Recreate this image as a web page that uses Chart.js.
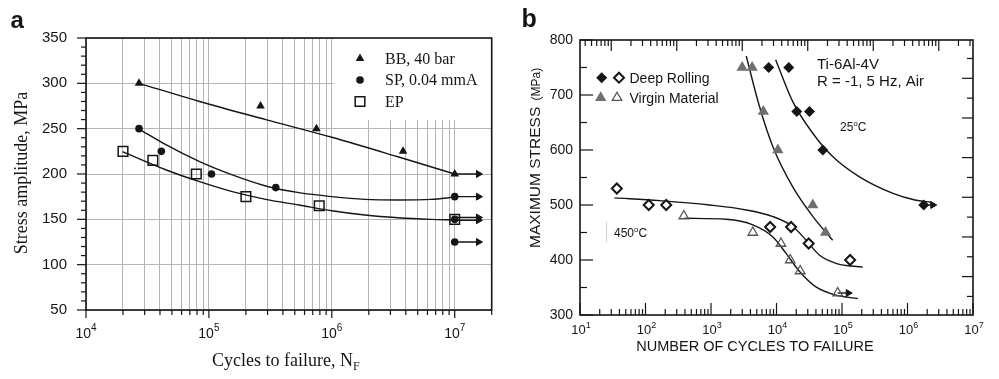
<!DOCTYPE html>
<html>
<head>
<meta charset="utf-8">
<script src="https://cdn.jsdelivr.net/npm/chart.js@4.4.0/dist/chart.umd.min.js"></script>
<style>
  html, body { margin: 0; padding: 0; background: #fff; }
  #wrap { position: relative; width: 999px; height: 379px; }
  canvas { position: absolute; top: 0; display: block; }
</style>
</head>
<body>
<div id="wrap">
  <canvas id="chartA" width="500" height="379" style="left:0"></canvas>
  <canvas id="chartB" width="499" height="379" style="left:500px"></canvas>
</div>
<script>
// ---------- panel a: stress amplitude vs cycles ----------
const bbCycles = [2.7e4, 2.63e5, 7.5e5, 3.8e6, 1e7];
const bbStress = [300, 275, 250, 225, 200];
const spCycles = [2.7e4, 4.1e4, 1.05e5, 3.5e5, 1e7, 1e7, 1e7];
const spStress = [250, 225, 200, 185, 175, 150, 125];
const epCycles = [2e4, 3.5e4, 7.9e4, 2e5, 7.9e5, 1e7];
const epStress = [225, 215, 200, 175, 165, 150];
// run-outs (arrows)
const runoutStressA = [200, 175, 152, 149, 125];
const runoutFromA = 1e7;
const runoutToA = 1.56e7;
// fitted curves
const bbFitCycles = [2.7e4, 8.4e4, 2.9e5, 1e6, 3.45e6, 1e7];
const bbFitStress = [300, 280, 260, 240.5, 219, 200];
const spFitCycles = [2.7e4, 4.5e4, 8.4e4, 1.55e5, 2.9e5, 5.4e5, 1e6, 1.86e6, 3.45e6, 6.4e6, 1e7];
const spFitStress = [249.6, 232, 213.6, 199, 186.8, 179.4, 175, 172, 171.3, 172, 174.5];
const epFitCycles = [1.98e4, 4.5e4, 8.4e4, 1.55e5, 2.9e5, 5.4e5, 1e6, 1.86e6, 3.45e6, 6.4e6, 1e7];
const epFitStress = [224.6, 204.4, 191.5, 180.5, 172, 165.8, 159.5, 154.8, 151.8, 150, 149.3];
const legendA = ['BB, 40 bar', 'SP, 0.04 mmA', 'EP'];
const decadesA = [4, 5, 6, 7];

// ---------- panel b: maximum stress vs cycles ----------
const dr25Cycles = [7.6e3, 1.54e4, 2.04e4, 3.19e4, 5.1e4, 1.77e6];
const dr25Stress = [750, 750, 670, 670, 600, 500];
const vm25Cycles = [2.99e3, 4.25e3, 6.3e3, 1.05e4, 3.58e4, 5.6e4];
const vm25Stress = [750, 750, 670, 600, 500, 450];
const dr450Cycles = [36.5, 112, 207, 8e3, 1.67e4, 3.1e4, 1.33e5];
const dr450Stress = [530, 500, 500, 460, 460, 430, 400];
const vm450Cycles = [385, 4.35e3, 1.17e4, 1.62e4, 2.3e4, 8.6e4];
const vm450Stress = [480, 450, 430, 400, 380, 340];
const dr25Runout = [1.77e6, 2.43e6];
const vm450Runout = [8.6e4, 1.245e5];
const dr25FitCycles = [9.7e3, 1.77e4, 3.6e4, 7.2e4, 1.85e5, 6e5, 1.3e6, 2.3e6];
const dr25FitStress = [764, 688, 630, 588, 551, 521, 509, 505];
const vm25FitCycles = [3.45e3, 5.5e3, 8.8e3, 1.77e4, 3.6e4, 7.2e4];
const vm25FitStress = [771, 679, 606, 533, 479, 436];
const dr450FitCycles = [33.6, 164, 950, 3.45e3, 8.8e3, 1.77e4, 2.84e4, 4.5e4, 8.1e4, 2.08e5];
const dr450FitStress = [513, 508, 500, 491, 479, 461, 436, 409, 394, 387];
const vm450FitCycles = [394, 1.7e3, 4.35e3, 8.8e3, 1.4e4, 2.25e4, 4e4, 8.1e4, 1.74e5];
const vm450FitStress = [476, 474, 464, 442, 412, 379, 351, 336, 330];
const legendB = ['Deep Rolling', 'Virgin Material'];
const decadesB = [1, 2, 3, 4, 5, 6, 7];

const sans = '"Liberation Sans", Arial, Helvetica, sans-serif';
const serif = '"Liberation Serif", "Times New Roman", serif';
const ink = '#151515';
const grey = '#6f6f6f';
const { drawPoint } = Chart.helpers;

function pts(xs, ys) { return xs.map((x, i) => ({ x: x, y: ys[i] })); }
function isDecade(v) { const l = Math.log10(v); return Math.abs(l - Math.round(l)) < 1e-6; }
function logTicks(lo, hi) {
  const out = [];
  for (let e = Math.floor(Math.log10(lo)) - 1; e <= Math.ceil(Math.log10(hi)); e++) {
    for (let n = 1; n <= 9; n++) {
      const v = n * Math.pow(10, e);
      if (v >= lo * 0.9999 && v <= hi * 1.0001) out.push(v);
    }
  }
  return out;
}
function line(ctx, x1, y1, x2, y2) { ctx.beginPath(); ctx.moveTo(x1, y1); ctx.lineTo(x2, y2); ctx.stroke(); }
function drawPow(ctx, cx, base, exp, big, small, rise) {
  ctx.font = big + 'px ' + sans;
  const w1 = ctx.measureText('10').width;
  ctx.font = small + 'px ' + sans;
  const w2 = ctx.measureText(exp).width;
  const x0 = cx - (w1 + w2) / 2;
  ctx.textAlign = 'left';
  ctx.textBaseline = 'alphabetic';
  ctx.font = big + 'px ' + sans;
  ctx.fillText('10', x0, base);
  ctx.font = small + 'px ' + sans;
  ctx.fillText(exp, x0 + w1, base - rise);
}
function curve(data, color) {
  return { type: 'line', data: data, borderColor: color, borderWidth: 1.4, pointRadius: 0,
    cubicInterpolationMode: 'monotone', fill: false, xAxisID: 'x', yAxisID: 'y' };
}
function marks(data, style, radius, fill, stroke, bw) {
  return { type: 'line', showLine: false, data: data, pointStyle: style, pointRadius: radius,
    pointBackgroundColor: fill, pointBorderColor: stroke, pointBorderWidth: bw, xAxisID: 'x', yAxisID: 'y' };
}
function arrow(x1, x2, y, r) {
  return { type: 'line', data: [{ x: x1, y: y }, { x: x2, y: y }], borderColor: ink, borderWidth: 1.4,
    pointRadius: [0, r], pointStyle: 'triangle', pointRotation: 90, pointBackgroundColor: ink,
    pointBorderColor: ink, pointBorderWidth: 1, xAxisID: 'x', yAxisID: 'y' };
}

// ================= panel a =================
const xTicksA = logTicks(1e4, 2e7);

const panelA = {
  id: 'panelA',
  beforeDatasetsDraw(chart) {
    const { ctx, chartArea: ca } = chart;
    ctx.save();
    ctx.fillStyle = '#fff';
    ctx.fillRect(334, ca.top, ca.right - 334, 120 - ca.top);
    ctx.restore();
  },
  afterDraw(chart) {
    const { ctx, chartArea: ca, scales: { x, y } } = chart;
    ctx.save();
    ctx.strokeStyle = ink;
    ctx.lineWidth = 1.6;
    ctx.strokeRect(ca.left, ca.top, ca.right - ca.left, ca.bottom - ca.top);
    ctx.lineWidth = 1.2;
    for (let v = 50; v <= 350; v += 10) {
      const py = y.getPixelForValue(v);
      line(ctx, ca.left - (v % 50 === 0 ? 9 : 5), py, ca.left, py);
    }
    for (const v of xTicksA) {
      const px = x.getPixelForValue(v);
      line(ctx, px, ca.bottom, px, ca.bottom + (isDecade(v) ? 8 : 5));
    }
    ctx.fillStyle = ink;
    for (const e of decadesA) drawPow(ctx, x.getPixelForValue(Math.pow(10, e)), 338, String(e), 14, 10, 7);

    // axis titles
    ctx.font = '18px ' + serif;
    ctx.textAlign = 'left';
    ctx.fillText('Cycles to failure, N', 212, 366);
    const wN = ctx.measureText('Cycles to failure, N').width;
    ctx.font = '12px ' + serif;
    ctx.fillText('F', 212 + wN, 370);
    ctx.save();
    ctx.translate(27, 173);
    ctx.rotate(-Math.PI / 2);
    ctx.font = '18px ' + serif;
    ctx.textAlign = 'center';
    ctx.fillText('Stress amplitude, MPa', 0, 0);
    ctx.restore();

    // panel letter
    ctx.font = 'bold 24px ' + sans;
    ctx.textAlign = 'left';
    ctx.fillText('a', 10.5, 28);

    // legend
    const rows = [58.5, 80, 101.5];
    const styles = [
      { pointStyle: 'triangle', radius: 5, fill: ink, bw: 0 },
      { pointStyle: 'circle', radius: 3.8, fill: ink, bw: 0 },
      { pointStyle: 'rect', radius: 6.8, fill: '#fff', bw: 1.5 }
    ];
    styles.forEach((s, i) => {
      ctx.fillStyle = s.fill;
      ctx.strokeStyle = ink;
      ctx.lineWidth = s.bw;
      drawPoint(ctx, { pointStyle: s.pointStyle, radius: s.radius, rotation: 0, borderWidth: s.bw }, 360, rows[i]);
      ctx.fillStyle = ink;
      ctx.font = '16px ' + serif;
      ctx.fillText(legendA[i], 385, rows[i] + 5);
    });
    ctx.restore();
  }
};

new Chart(document.getElementById('chartA'), {
  data: {
    datasets: [
      marks(pts(epCycles, epStress), 'rect', 6.8, 'rgba(255,255,255,0)', ink, 1.5),
      marks(pts(bbCycles, bbStress), 'triangle', 5, ink, ink, 0),
      marks(pts(spCycles, spStress), 'circle', 3.8, ink, ink, 0),
      ...runoutStressA.map(s => arrow(runoutFromA, runoutToA, s, 4)),
      curve(pts(bbFitCycles, bbFitStress), ink),
      curve(pts(spFitCycles, spFitStress), ink),
      curve(pts(epFitCycles, epFitStress), ink)
    ]
  },
  options: {
    responsive: false,
    animation: false,
    layout: { padding: { left: 0, right: 7, top: 38, bottom: 0 } },
    plugins: { legend: { display: false }, tooltip: { enabled: false } },
    scales: {
      x: {
        type: 'logarithmic', min: 1e4, max: 2e7,
        afterBuildTicks: s => { s.ticks = xTicksA.map(v => ({ value: v })); },
        afterFit: s => { s.height = 69; },
        ticks: { display: false },
        grid: { color: '#b4b4b4', lineWidth: 1, drawTicks: false },
        border: { display: false }
      },
      y: {
        type: 'linear', min: 50, max: 350,
        afterFit: s => { s.width = 86; },
        ticks: { stepSize: 50, color: ink, padding: 19, font: { family: sans, size: 15 } },
        grid: { color: '#b4b4b4', lineWidth: 1, drawTicks: false },
        border: { display: false }
      }
    }
  },
  plugins: [panelA]
});

// ================= panel b =================
const minuteTicks = logTicks(10 / 300, 1e7 / 300);
const cycleTicks = logTicks(10, 1e7);

const panelB = {
  id: 'panelB',
  afterDraw(chart) {
    const { ctx, chartArea: ca, scales: { x, x2, y, y2 } } = chart;
    ctx.save();
    ctx.strokeStyle = ink;
    ctx.lineWidth = 1.2;
    for (let v = 300; v <= 800; v += 50) {
      const py = y.getPixelForValue(v);
      line(ctx, ca.left, py, ca.left + (v % 100 === 0 ? 13 : 7), py);
    }
    for (let v = 45; v <= 105; v += 5) {
      const py = y2.getPixelForValue(v);
      line(ctx, ca.right, py, ca.right - (v % 10 === 0 ? 11 : 6), py);
    }
    for (const v of cycleTicks) {
      const px = x.getPixelForValue(v);
      line(ctx, px, ca.bottom, px, ca.bottom - (isDecade(v) ? 12 : 6));
    }
    for (const v of minuteTicks) {
      const px = x2.getPixelForValue(v);
      line(ctx, px, ca.top, px, ca.top + (isDecade(v) ? 11 : 6));
    }
    ctx.lineWidth = 1.6;
    ctx.strokeRect(ca.left, ca.top, ca.right - ca.left, ca.bottom - ca.top);

    ctx.fillStyle = ink;
    for (const e of decadesB) drawPow(ctx, x.getPixelForValue(Math.pow(10, e)) + 1, 333.5, String(e), 13, 9, 6);

    // axis titles
    ctx.font = '14.5px ' + sans;
    ctx.textAlign = 'center';
    ctx.fillText('NUMBER OF CYCLES TO FAILURE', 255, 350.5);
    ctx.save();
    ctx.translate(39.5, 248);
    ctx.rotate(-Math.PI / 2);
    ctx.textAlign = 'left';
    ctx.font = '15.5px ' + sans;
    ctx.fillText('MAXIMUM STRESS', 0, 0);
    const wm = ctx.measureText('MAXIMUM STRESS ').width;
    ctx.font = '12px ' + sans;
    ctx.fillText('(MPa)', wm + 2, 0);
    ctx.restore();

    // panel letter
    ctx.font = 'bold 25px ' + sans;
    ctx.textAlign = 'left';
    ctx.fillText('b', 21.5, 27);

    // annotations
    ctx.font = '15px ' + sans;
    ctx.fillText('Ti-6Al-4V', 317, 68.5);
    ctx.fillText('R = -1, 5 Hz, Air', 317, 85.5);
    const degC = (txt, x0, base) => {
      ctx.font = '12px ' + sans;
      ctx.fillText(txt, x0, base);
      let w = ctx.measureText(txt).width;
      ctx.font = '8px ' + sans;
      ctx.fillText('o', x0 + w, base - 5);
      w += ctx.measureText('o').width;
      ctx.font = '12px ' + sans;
      ctx.fillText('C', x0 + w, base);
    };
    degC('25', 340, 131);
    degC('450', 114, 236.5);
    ctx.strokeStyle = '#cfcfcf';
    ctx.lineWidth = 1;
    line(ctx, 106.5, 222, 106.5, 242);

    // legend
    const rowsB = [77.7, 97.7];
    const mk = (style, r, fill, stroke, bw, px, py) => {
      ctx.fillStyle = fill;
      ctx.strokeStyle = stroke;
      ctx.lineWidth = bw;
      drawPoint(ctx, { pointStyle: style, radius: r, rotation: 0, borderWidth: bw }, px, py);
    };
    mk('rectRot', 5.5, ink, ink, 0, 101.7, rowsB[0]);
    mk('rectRot', 5, '#fff', ink, 2, 119, rowsB[0]);
    mk('triangle', 6.5, grey, grey, 0, 100.7, rowsB[1]);
    mk('triangle', 5.5, '#fff', '#555', 1.3, 117, rowsB[1]);
    ctx.fillStyle = ink;
    ctx.font = '14px ' + sans;
    ctx.fillText(legendB[0], 129.5, rowsB[0] + 5);
    ctx.fillText(legendB[1], 129.5, rowsB[1] + 5);
    ctx.restore();
  }
};

new Chart(document.getElementById('chartB'), {
  data: {
    datasets: [
      marks(pts(dr25Cycles, dr25Stress), 'rectRot', 5.5, ink, ink, 0),
      marks(pts(dr450Cycles, dr450Stress), 'rectRot', 5, '#fff', ink, 2),
      marks(pts(vm25Cycles, vm25Stress), 'triangle', 6.5, grey, grey, 0),
      marks(pts(vm450Cycles, vm450Stress), 'triangle', 5.5, 'rgba(255,255,255,0)', '#555', 1.3),
      arrow(dr25Runout[0], dr25Runout[1], dr25Stress[5], 4),
      arrow(vm450Runout[0], vm450Runout[1], vm450Stress[5], 4),
      curve(pts(dr25FitCycles, dr25FitStress), ink),
      curve(pts(vm25FitCycles, vm25FitStress), ink),
      curve(pts(dr450FitCycles, dr450FitStress), ink),
      curve(pts(vm450FitCycles, vm450FitStress), ink)
    ]
  },
  options: {
    responsive: false,
    animation: false,
    layout: { padding: 0 },
    plugins: { legend: { display: false }, tooltip: { enabled: false } },
    scales: {
      x: {
        type: 'logarithmic', position: 'bottom', min: 10, max: 1e7,
        afterFit: s => { s.height = 64; },
        ticks: { display: false },
        grid: { display: false, drawTicks: false },
        border: { display: false }
      },
      x2: {
        type: 'logarithmic', position: 'top', min: 10 / 300, max: 1e7 / 300,
        afterFit: s => { s.height = 40; },
        ticks: { display: false },
        grid: { display: false, drawTicks: false },
        border: { display: false }
      },
      y: {
        type: 'linear', position: 'left', min: 300, max: 800,
        afterFit: s => { s.width = 80; },
        ticks: { stepSize: 100, color: ink, padding: 7, font: { family: sans, size: 14 } },
        grid: { display: false, drawTicks: false },
        border: { display: false }
      },
      y2: {
        type: 'linear', position: 'right', min: 40.32, max: 109.66,
        afterFit: s => { s.width = 26; },
        ticks: { display: false },
        grid: { display: false, drawTicks: false },
        border: { display: false }
      }
    }
  },
  plugins: [panelB]
});
</script>
</body>
</html>
